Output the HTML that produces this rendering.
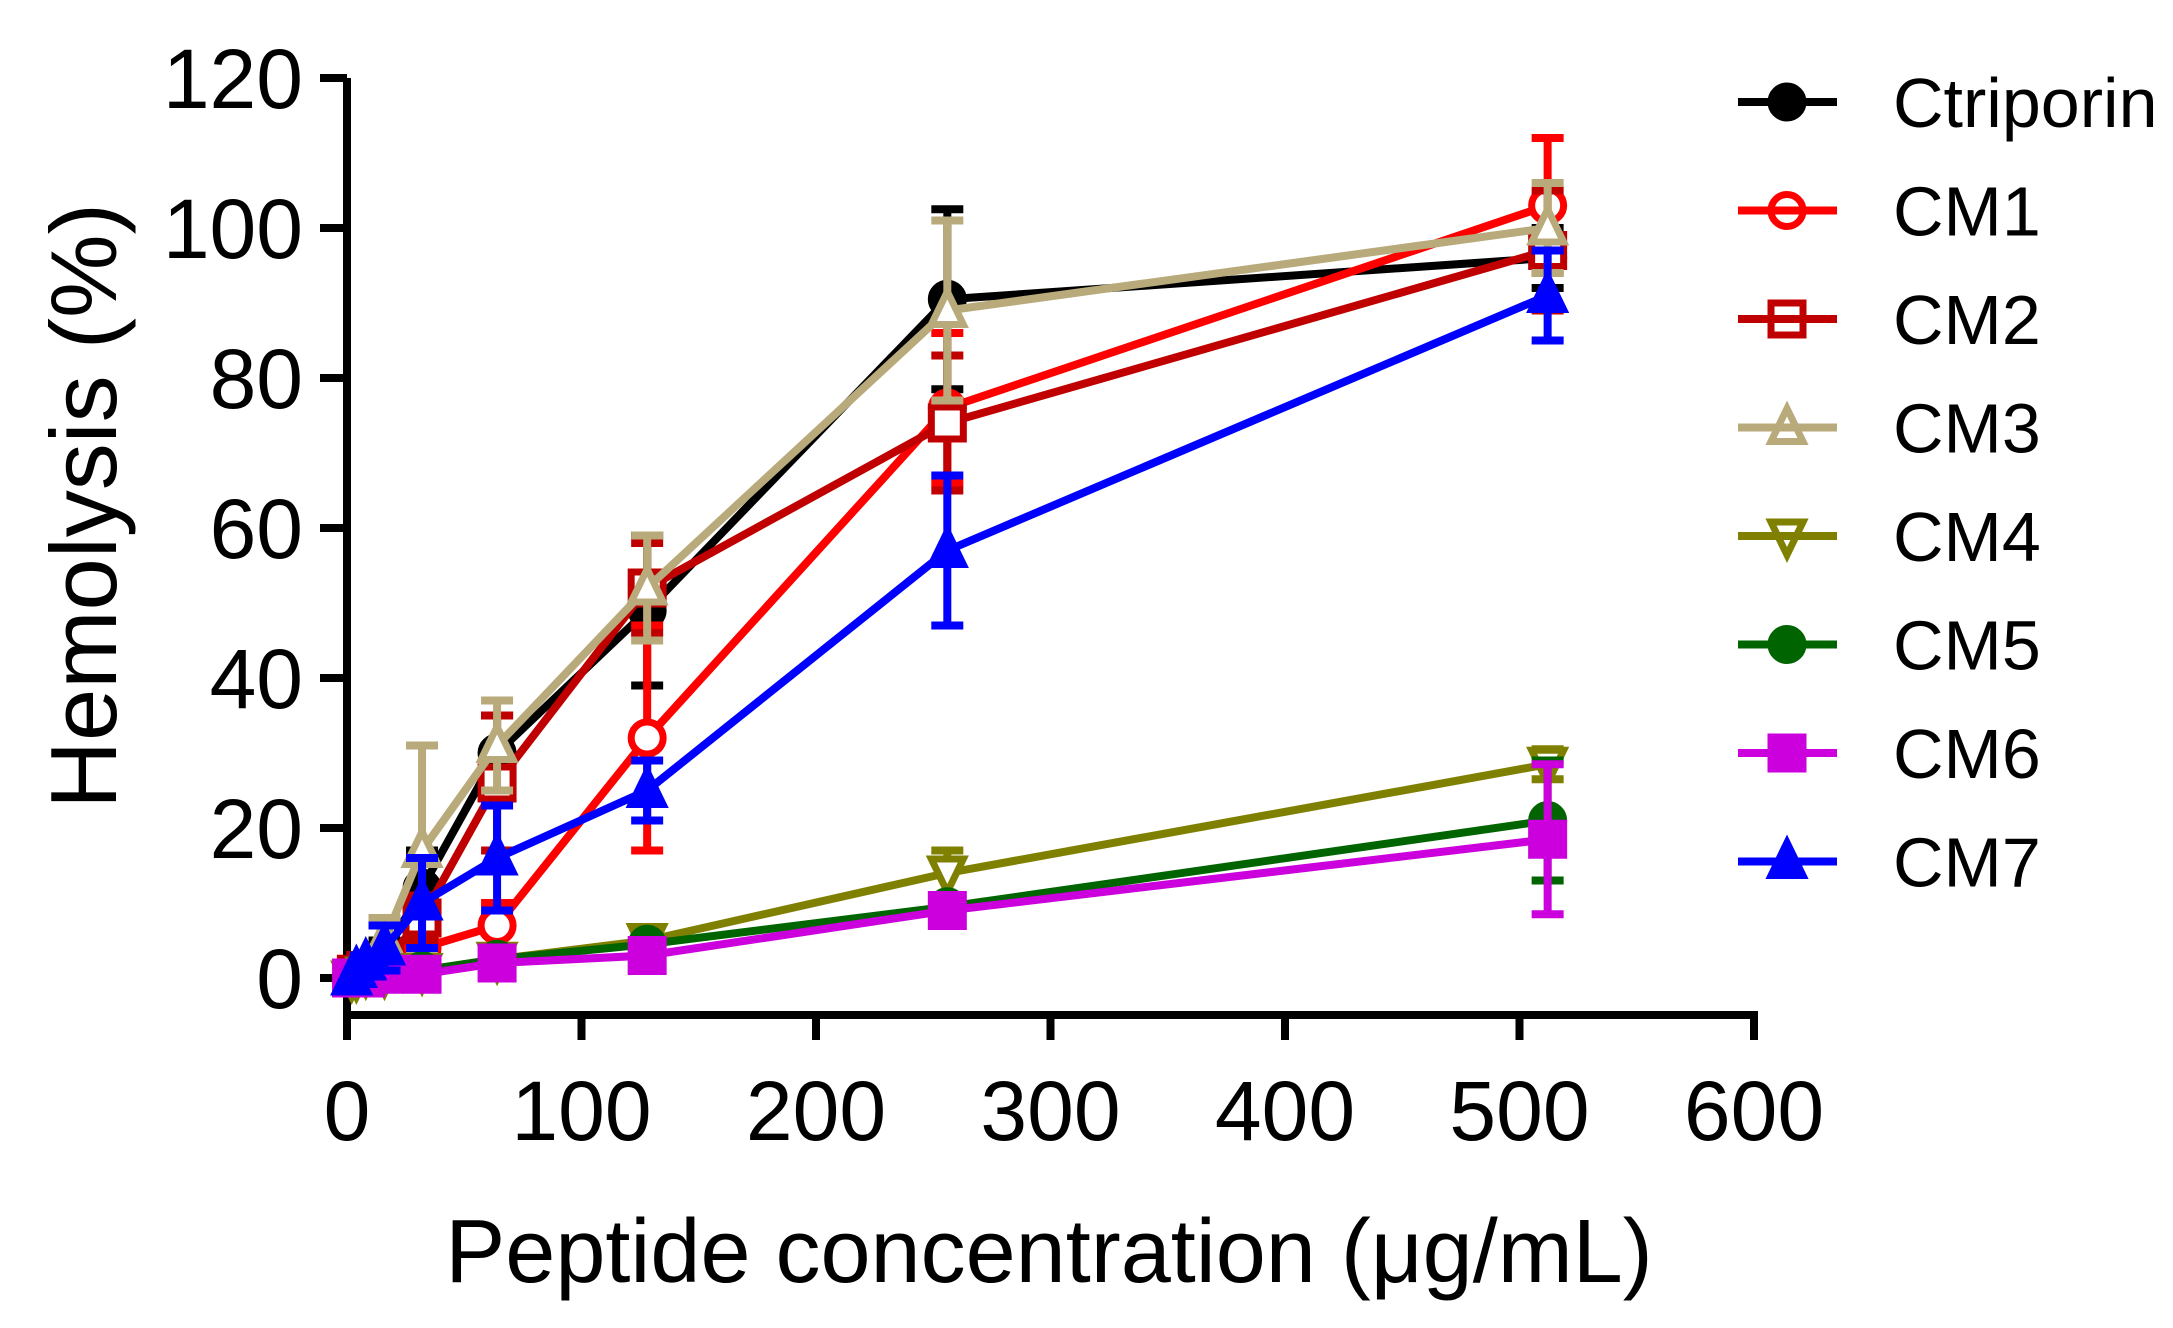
<!DOCTYPE html>
<html><head><meta charset="utf-8"><style>
body{margin:0;background:#fff}
svg{display:block;font-family:"Liberation Sans",Arial,sans-serif}
</style></head><body>
<svg id="chart" width="2173" height="1328" viewBox="0 0 2173 1328">
<g id="axes"></g>
<g id="plot"></g>
<g id="legend"></g>
<text x="1049" y="1282" font-size="90" text-anchor="middle">Peptide concentration (μg/mL)</text>
<text transform="translate(116,506) rotate(-90)" font-size="94" text-anchor="middle">Hemolysis (%)</text>
</svg>
<script>
const concentrations = [2,4,8,16,32,64,128,256,512];
const seriesNames = ["Ctriporin","CM1","CM2","CM3","CM4","CM5","CM6","CM7"];
const ctriporin = [0,0.5,1,3,12,30,49,90.5,96];
const cm1 = [0,0,0.5,1,4,7,32,76,103];
const cm2 = [0,0.5,1,2,8,26,52,74,97];
const cm3 = [0,1,2,5,17,31,52,89,100];
const cm4 = [0,0,0.5,0.5,1,2.5,5,14,28.5];
const cm5 = [0,0,0.5,0.5,1,2.5,4.5,9.5,21];
const cm6 = [0,0,0,0.5,0.5,2,3,9,18.5];
const cm7 = [0,1,2,4,10,16,25,57,91];
const ctriporinErr = [0,0,0,2,5,5,10,12,4];
const cm1Err = [0,0,0,1,4,3,15,10,9];
const cm2Err = [0,0,0,1,3,9,6,9,8];
const cm3Err = [0,0,1,3,14,6,7,12,6];
const cm4Err = [0,0,0,0,1,1,1,3,2];
const cm5Err = [0,0,0,0,1,1,1,1,8];
const cm6Err = [0,0,0,0,1,1,1,1,10];
const cm7Err = [0,0,1,3,6,7,4,10,6];
const xTicks = [0,100,200,300,400,500,600];
const yTicks = [0,20,40,60,80,100,120];

const values=[ctriporin,cm1,cm2,cm3,cm4,cm5,cm6,cm7];
const errs=[ctriporinErr,cm1Err,cm2Err,cm3Err,cm4Err,cm5Err,cm6Err,cm7Err];
const colors=["#000","#ff0000","#c00000","#b8aa7a","#808000","#006400","#cc00dd","#0000ff"];
const markers=["circleFill","circle","square","triUp","triDown","circleHalf","squareFill","triUpFill"];
const NS="http://www.w3.org/2000/svg";
const X=v=>347+v*2.345, Y=v=>978-v*7.5;
function mk(tag,attrs,parent){const e=document.createElementNS(NS,tag);for(const k in attrs)e.setAttribute(k,attrs[k]);parent.appendChild(e);return e;}
const axes=document.getElementById('axes'),plot=document.getElementById('plot'),legend=document.getElementById('legend');
let a=mk('line',{x1:347,y1:Y(120),x2:347,y2:1019,stroke:'#000','stroke-width':8},axes);

a=mk('line',{x1:343,y1:1015,x2:X(600)+4,y2:1015,stroke:'#000','stroke-width':8},axes);

xTicks.forEach(t=>{const l=mk('line',{x1:X(t),y1:1015,x2:X(t),y2:1040,stroke:'#000','stroke-width':8},axes);

const tx=mk('text',{x:X(t),y:1140,'font-size':84,'text-anchor':'middle'},axes);tx.textContent=t;
});
yTicks.forEach(t=>{const l=mk('line',{x1:320,y1:Y(t),x2:347,y2:Y(t),stroke:'#000','stroke-width':8},axes);

const tx=mk('text',{x:303,y:Y(t)+30,'font-size':84,'text-anchor':'end'},axes);tx.textContent=t;
});
function marker(type,cx,cy,c,parent,open){
 const r=16,sw=7;let e;const of=open?'none':'#fff';
 if(type.startsWith('circle')){e=mk('circle',{cx,cy,r,fill:type=='circle'?of:c,stroke:c,'stroke-width':sw},parent);}
 else if(type.startsWith('square')){e=mk('rect',{x:cx-r,y:cy-r,width:2*r,height:2*r,fill:type=='square'?of:c,stroke:c,'stroke-width':sw},parent);}
 else if(type.startsWith('triUp')){e=mk('polygon',{points:`${cx},${cy-r-3} ${cx-r},${cy+r-2} ${cx+r},${cy+r-2}`,fill:type=='triUp'?of:c,stroke:c,'stroke-width':sw},parent);}
 else {e=mk('polygon',{points:`${cx},${cy+r+3} ${cx-r},${cy-r+2} ${cx+r},${cy-r+2}`,fill:of,stroke:c,'stroke-width':sw},parent);}
 return e;}
values.forEach((vals,si)=>{
 const g=mk('g',{},plot);
 const c=colors[si];
 vals.forEach((v,i)=>{const er=errs[si][i];if(er>0){const x=X(concentrations[i]);
  const eb=mk('path',{d:`M${x},${Y(v-er)}V${Y(v+er)}M${x-16},${Y(v+er)}H${x+16}M${x-16},${Y(v-er)}H${x+16}`,stroke:c,'stroke-width':8,fill:'none'},g);
  }});
 const pl=mk('polyline',{points:vals.map((v,i)=>X(concentrations[i])+','+Y(v)).join(' '),fill:'none',stroke:c,'stroke-width':8,'stroke-linejoin':'round'},g);
 
 vals.forEach((v,i)=>{const m=marker(markers[si],X(concentrations[i]),Y(v),c,g,false);
  });
 const ly=102+si*108.5;
 const lg=mk('g',{},legend);
 mk('line',{x1:1738,y1:ly,x2:1837,y2:ly,stroke:c,'stroke-width':8},lg);
 marker(markers[si],1787,ly,c,lg,true);
 const t=mk('text',{x:1893,y:ly+25,'font-size':70},lg);t.textContent=seriesNames[si];
});
</script>
</body></html>
